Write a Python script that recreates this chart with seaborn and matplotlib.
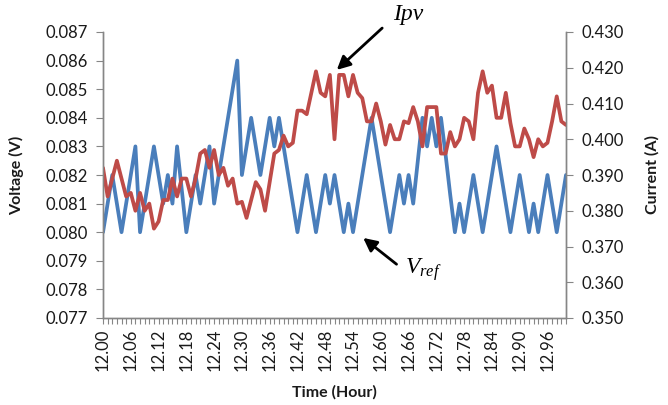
import numpy as np
import pandas as pd
import matplotlib
matplotlib.use("Agg")
import matplotlib.pyplot as plt
from matplotlib.ticker import FixedLocator, FormatStrFormatter, MultipleLocator
import seaborn as sns

# ---- data ----
time_hour = np.round(np.arange(12.00, 13.0001, 0.01), 2)   # 101 categories 12.00 .. 13.00

voltage = [
    0.080, 0.081, 0.082, 0.081, 0.080, 0.081, 0.082, 0.083, 0.080, 0.081,
    0.082, 0.083, 0.082, 0.081, 0.082, 0.081, 0.083, 0.0815, 0.080, 0.081,
    0.082, 0.081, 0.082, 0.083, 0.081, 0.082, 0.083, 0.084, 0.085, 0.086,
    0.082, 0.083, 0.084, 0.083, 0.082, 0.083, 0.084, 0.083, 0.084, 0.083,
    0.082, 0.081, 0.080, 0.081, 0.082, 0.081, 0.080, 0.081, 0.082, 0.081,
    0.082, 0.081, 0.080, 0.081, 0.080, 0.081, 0.082, 0.083, 0.084, 0.083,
    0.082, 0.081, 0.080, 0.081, 0.082, 0.081, 0.082, 0.081, 0.0825, 0.084,
    0.083, 0.084, 0.083, 0.084, 0.0827, 0.0813, 0.080, 0.081, 0.080, 0.081,
    0.082, 0.081, 0.080, 0.081, 0.082, 0.083, 0.082, 0.081, 0.080, 0.081,
    0.082, 0.081, 0.080, 0.081, 0.080, 0.081, 0.082, 0.081, 0.080, 0.081,
    0.082,
]

current = [
    0.392, 0.384, 0.389, 0.394, 0.389, 0.384, 0.385, 0.380, 0.385, 0.380,
    0.382, 0.375, 0.377, 0.383, 0.383, 0.389, 0.384, 0.389, 0.389, 0.384,
    0.389, 0.396, 0.397, 0.392, 0.397, 0.390, 0.392, 0.387, 0.389, 0.382,
    0.3825, 0.378, 0.383, 0.388, 0.386, 0.380, 0.388, 0.396, 0.397, 0.401,
    0.398, 0.399, 0.408, 0.408, 0.407, 0.413, 0.419, 0.413, 0.412, 0.418,
    0.400, 0.418, 0.418, 0.412, 0.418, 0.413, 0.4115, 0.405, 0.405, 0.410,
    0.405, 0.3985, 0.404, 0.400, 0.400, 0.405, 0.4045, 0.409, 0.405, 0.398,
    0.409, 0.409, 0.409, 0.396, 0.396, 0.402, 0.398, 0.400, 0.406, 0.405,
    0.400, 0.413, 0.419, 0.413, 0.415, 0.406, 0.406, 0.413, 0.4045, 0.398,
    0.398, 0.403, 0.400, 0.395, 0.400, 0.398, 0.399, 0.405, 0.412, 0.405,
    0.404,
]

x_tick_labels = ["12.00", "12.06", "12.12", "12.18", "12.24", "12.30", "12.36",
                 "12.42", "12.48", "12.54", "12.60", "12.66", "12.72", "12.78",
                 "12.84", "12.90", "12.96"]
volt_ticks = [0.077, 0.078, 0.079, 0.080, 0.081, 0.082, 0.083, 0.084, 0.085, 0.086, 0.087]
curr_ticks = [0.350, 0.360, 0.370, 0.380, 0.390, 0.400, 0.410, 0.420, 0.430]

df = pd.DataFrame({"time": time_hour, "voltage": voltage, "current": current})

# ---- style ----
sns.set_style("white")
plt.rcParams["font.family"] = ["Lato", "DejaVu Sans"]
plt.rcParams["mathtext.fontset"] = "custom"
plt.rcParams["mathtext.it"] = "Liberation Serif:italic"
plt.rcParams["mathtext.rm"] = "Liberation Serif"

BLUE = "#4A7EBB"
RED = "#BE4B48"
AXC = "#868686"
TXT = "#1a1a1a"

fig = plt.figure(figsize=(6.68, 4.05), dpi=100)
ax = fig.add_axes([103 / 668, 1 - 318 / 405, 463 / 668, 286 / 405])
ax2 = ax.twinx()

sns.lineplot(data=df, x="time", y="voltage", ax=ax, color=BLUE, linewidth=2.7)
sns.lineplot(data=df, x="time", y="current", ax=ax2, color=RED, linewidth=2.7)

ax.set_xlim(12.00, 13.00)
ax.set_ylim(0.077, 0.087)
ax2.set_ylim(0.350, 0.430)

# x ticks: labels every 6 categories, minor tick on every category
ax.xaxis.set_major_locator(FixedLocator([float(s) for s in x_tick_labels]))
ax.set_xticklabels(x_tick_labels, rotation=90)
ax.xaxis.set_minor_locator(MultipleLocator(0.01))
ax.yaxis.set_major_locator(FixedLocator(volt_ticks))
ax.yaxis.set_major_formatter(FormatStrFormatter("%.3f"))
ax2.yaxis.set_major_locator(FixedLocator(curr_ticks))
ax2.yaxis.set_major_formatter(FormatStrFormatter("%.3f"))

for a in (ax, ax2):
    for s in a.spines.values():
        s.set_color(AXC)
        s.set_linewidth(1.0)
    a.spines["top"].set_visible(False)
    a.grid(False)

ax.tick_params(axis="x", which="both", direction="out", length=4, width=0.8,
               color=AXC, labelsize=12, labelcolor=TXT, pad=4, bottom=True)
ax.tick_params(axis="y", which="major", direction="out", length=5, width=0.8,
               color=AXC, labelsize=12, labelcolor=TXT, left=True, pad=6)
ax2.tick_params(axis="y", which="major", direction="out", length=5, width=0.8,
                color=AXC, labelsize=12, labelcolor=TXT, right=True, pad=6)

ax.set_xlabel("Time (Hour)", fontsize=11.5, fontweight="bold", color=TXT)
ax.set_ylabel("Voltage (V)", fontsize=11.5, fontweight="bold", color=TXT)
ax2.set_ylabel("Current (A)", fontsize=11.5, fontweight="bold", color=TXT, rotation=90)
ax.xaxis.set_label_coords(0.5, -0.235)
ax.yaxis.set_label_coords(-0.17, 0.5)
ax2.yaxis.set_label_coords(1.17, 0.5)

# annotations
arrow = dict(arrowstyle="-|>", color="black", lw=2.0, mutation_scale=20,
             shrinkA=0, shrinkB=0)
ax2.annotate("", xy=(12.505, 0.4194), xytext=(12.603, 0.4311),
             arrowprops=arrow, annotation_clip=False)
ax2.text(12.66, 0.4348, "Ipv", fontsize=17, style="italic",
         family="Liberation Serif", ha="center", va="center", color="black")
ax.annotate("", xy=(12.562, 0.0798), xytext=(12.634, 0.07888),
            arrowprops=arrow, annotation_clip=False)
ax.text(12.692, 0.07868, r"$V_{ref}$", fontsize=17, ha="center", va="center",
        color="black")

fig.savefig("out.png", dpi=100, facecolor="white")
